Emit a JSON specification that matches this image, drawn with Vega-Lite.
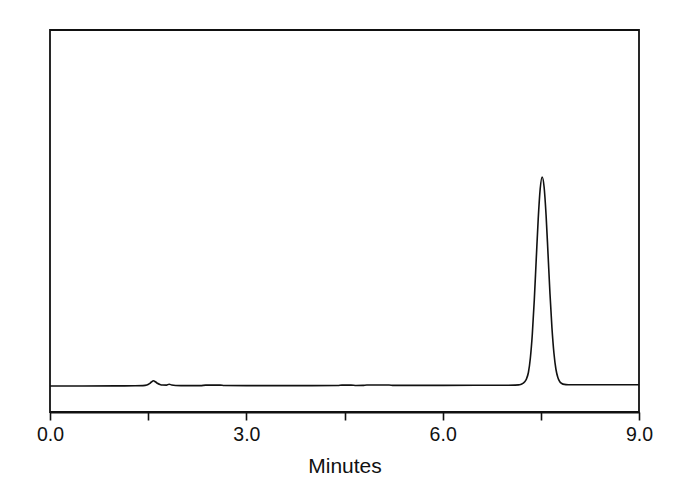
{
  "$schema": "https://vega.github.io/schema/vega-lite/v6.json",
  "autosize": {"type": "none"},
  "padding": {"left": 50, "top": 30, "right": 51, "bottom": 78},
  "width": 589,
  "height": 382,
  "background": "white",
  "config": {
    "view": {"stroke": "#111111", "strokeWidth": 1.8},
    "font": "Liberation Sans"
  },
  "data": {
    "values": [
      {"t": 0.0, "v": 0},
      {"t": 0.5, "v": 0},
      {"t": 1.0, "v": 0.1},
      {"t": 1.3, "v": 0.2},
      {"t": 1.42, "v": 0.4},
      {"t": 1.48, "v": 1.0},
      {"t": 1.52, "v": 2.4},
      {"t": 1.55, "v": 4.0},
      {"t": 1.58, "v": 5.2},
      {"t": 1.61, "v": 4.2},
      {"t": 1.64, "v": 2.8},
      {"t": 1.68, "v": 1.6},
      {"t": 1.72, "v": 1.0},
      {"t": 1.78, "v": 0.9},
      {"t": 1.82, "v": 1.8},
      {"t": 1.86, "v": 1.0},
      {"t": 1.92, "v": 0.5},
      {"t": 2.0, "v": 0.4},
      {"t": 2.3, "v": 0.4},
      {"t": 2.38, "v": 0.9},
      {"t": 2.6, "v": 0.9},
      {"t": 2.66, "v": 0.5},
      {"t": 3.0, "v": 0.4},
      {"t": 3.5, "v": 0.4},
      {"t": 4.0, "v": 0.4},
      {"t": 4.4, "v": 0.5},
      {"t": 4.46, "v": 0.9},
      {"t": 4.6, "v": 0.9},
      {"t": 4.68, "v": 0.5},
      {"t": 4.78, "v": 0.6},
      {"t": 4.84, "v": 1.0},
      {"t": 5.18, "v": 1.0},
      {"t": 5.25, "v": 0.6},
      {"t": 5.6, "v": 0.6},
      {"t": 6.0, "v": 0.6},
      {"t": 6.5, "v": 0.7},
      {"t": 7.0, "v": 0.8},
      {"t": 7.1, "v": 0.9},
      {"t": 7.16, "v": 1.1},
      {"t": 7.19, "v": 1.5},
      {"t": 7.22, "v": 2.3},
      {"t": 7.25, "v": 4.0},
      {"t": 7.28, "v": 7.0},
      {"t": 7.31, "v": 13.5},
      {"t": 7.34, "v": 28},
      {"t": 7.37, "v": 52},
      {"t": 7.40, "v": 86},
      {"t": 7.43, "v": 127},
      {"t": 7.46, "v": 167},
      {"t": 7.49, "v": 197},
      {"t": 7.52, "v": 209},
      {"t": 7.55, "v": 199},
      {"t": 7.58, "v": 171},
      {"t": 7.61, "v": 132},
      {"t": 7.64, "v": 92},
      {"t": 7.67, "v": 58},
      {"t": 7.70, "v": 33},
      {"t": 7.73, "v": 17},
      {"t": 7.76, "v": 8.5},
      {"t": 7.79, "v": 4.2},
      {"t": 7.82, "v": 2.5},
      {"t": 7.86, "v": 1.6},
      {"t": 7.92, "v": 1.3},
      {"t": 8.0, "v": 1.2},
      {"t": 8.5, "v": 1.2},
      {"t": 9.0, "v": 1.2}
    ]
  },
  "mark": {"type": "line", "color": "#111111", "strokeWidth": 1.6, "interpolate": "monotone"},
  "encoding": {
    "x": {
      "field": "t",
      "type": "quantitative",
      "scale": {"domain": [0, 9], "nice": false, "zero": false},
      "axis": {
        "title": "Minutes",
        "values": [0, 1.5, 3, 4.5, 6, 7.5, 9],
        "format": ".1f",
        "labelExpr": "datum.value % 3 === 0 ? datum.label : ''",
        "labelFlush": false,
        "labelOverlap": false,
        "grid": false,
        "domain": true,
        "domainColor": "#111111",
        "domainWidth": 1.8,
        "tickColor": "#111111",
        "tickWidth": 1.6,
        "tickSize": 8,
        "labelFontSize": 19.5,
        "labelColor": "#111111",
        "labelPadding": 5,
        "labelFont": "Liberation Sans",
        "titleFont": "Liberation Sans",
        "titleFontSize": 21,
        "titleFontWeight": "normal",
        "titleColor": "#111111",
        "titlePadding": 12,
        "encoding": {
          "ticks": {"update": {"y2": {"signal": "datum.value % 3 === 0 ? 8 : 5"}}}
        }
      }
    },
    "y": {
      "field": "v",
      "type": "quantitative",
      "scale": {"domain": [-26, 356], "nice": false, "zero": false},
      "axis": null
    }
  }
}
